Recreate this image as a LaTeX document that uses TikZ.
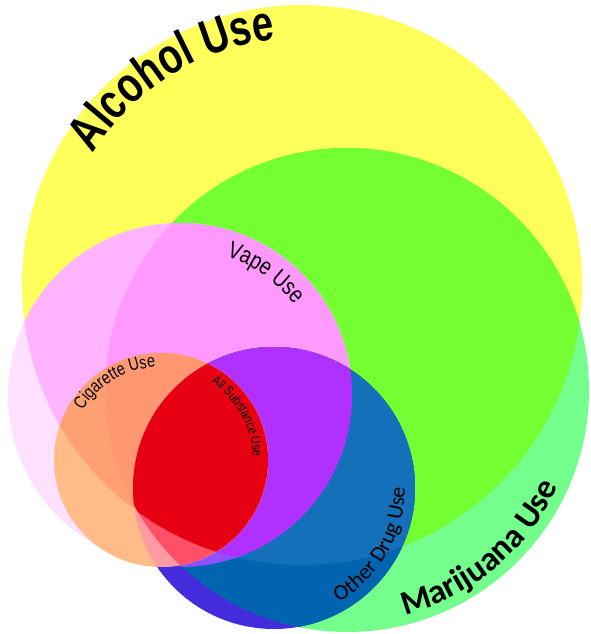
\documentclass[tikz,border=0pt]{standalone}
\usepackage{fontspec}
\newfontfamily\headfont[FakeStretch=0.77]{Liberation Sans}
\newfontfamily\narrowfont[FakeStretch=0.8]{Liberation Sans}
\newfontfamily\calfont{Carlito}
\usetikzlibrary{decorations.text}

\definecolor{alcY}{RGB}{255,255,92}
\definecolor{marG}{RGB}{116,255,140}
\definecolor{alcmarG}{RGB}{116,255,51}
\definecolor{vapeP}{RGB}{255,224,255}
\definecolor{vapealcP}{RGB}{255,180,255}
\definecolor{vapeallP}{RGB}{255,153,255}
\definecolor{othB}{RGB}{68,44,220}
\definecolor{othmarB}{RGB}{0,100,176}
\definecolor{othallB}{RGB}{20,112,184}
\definecolor{othvapeV}{RGB}{144,80,255}
\definecolor{othallV}{RGB}{176,48,255}
\definecolor{cigO}{RGB}{255,187,136}
\definecolor{cigalcO}{RGB}{255,160,115}
\definecolor{cigallO}{RGB}{255,152,112}
\definecolor{cigothR}{RGB}{255,154,162}
\definecolor{cigothmarR}{RGB}{255,80,104}
\definecolor{allR}{RGB}{230,0,18}

\tikzset{
  arclabel/.style={decorate, decoration={text along path, text align=center, text={#1}}}
}

\begin{document}
\begin{tikzpicture}[x=1pt,y=1pt]
\useasboundingbox (0,0) rectangle (590,634);
\coordinate (alc) at (302,349);
\coordinate (mar) at (347,244);
\coordinate (vape) at (180,239);
\coordinate (oth) at (274,146);
\coordinate (cig) at (161,174);

% alcohol and marijuana
\fill[alcY] (alc) circle[radius=280pt];
\fill[marG] (mar) circle[radius=242pt];
\begin{scope}
 \clip (alc) circle[radius=280pt];
 \fill[alcmarG] (mar) circle[radius=242pt];
\end{scope}

% vape
\fill[vapeP] (vape) circle[radius=172pt];
\begin{scope}
 \clip (vape) circle[radius=172pt];
 \fill[vapealcP] (alc) circle[radius=280pt];
 \clip (alc) circle[radius=280pt];
 \fill[vapeallP] (mar) circle[radius=242pt];
\end{scope}

% other drugs
\fill[othB] (oth) circle[radius=141pt];
\begin{scope}
 \clip (oth) circle[radius=141pt];
 \fill[othmarB] (mar) circle[radius=242pt];
 \clip (mar) circle[radius=242pt];
 \fill[othallB] (alc) circle[radius=280pt];
 \clip (vape) circle[radius=172pt];
 \fill[othvapeV] (vape) circle[radius=172pt];
 \clip (alc) circle[radius=280pt];
 \fill[othallV] (alc) circle[radius=280pt];
\end{scope}

% cigarettes
\fill[cigO] (cig) circle[radius=107pt];
\begin{scope}
 \clip (cig) circle[radius=107pt];
 \fill[cigalcO] (alc) circle[radius=280pt];
 \clip (alc) circle[radius=280pt];
 \fill[cigallO] (mar) circle[radius=242pt];
\end{scope}
\begin{scope}
 \clip (cig) circle[radius=107pt];
 \fill[cigothR] (oth) circle[radius=141pt];
 \clip (oth) circle[radius=141pt];
 \fill[cigothmarR] (mar) circle[radius=242pt];
 \clip (mar) circle[radius=242pt];
 \fill[allR] (alc) circle[radius=280pt];
\end{scope}

% labels
\path[arclabel={|\headfont\bfseries\fontsize{50}{50}\selectfont|Alcohol Use}]
 ([shift={(160:247pt)}]alc) arc[start angle=160, end angle=84, radius=247pt];
\path[arclabel={|\calfont\bfseries\fontsize{34}{34}\selectfont|Marijuana Use}]
 ([shift={(-85:232pt)}]mar) arc[start angle=-85, end angle=-15, radius=232pt];
\path[arclabel={|\narrowfont\fontsize{24}{24}\selectfont|Vape Use}]
 ([shift={(85:146pt)}]vape) arc[start angle=85, end angle=25, radius=146pt];
\path[arclabel={|\calfont\fontsize{22}{22}\selectfont|Other Drug Use}]
 ([shift={(-80:131pt)}]oth) arc[start angle=-80, end angle=20, radius=131pt];
\path[arclabel={|\narrowfont\fontsize{18}{18}\selectfont|Cigarette Use}]
 ([shift={(160:93pt)}]cig) arc[start angle=160, end angle=81, radius=93pt];
\path[arclabel={|\narrowfont\fontsize{13.5}{13.5}\selectfont|All Substance Use}]
 ([shift={(75:92pt)}]cig) arc[start angle=75, end angle=-16, radius=92pt];
\end{tikzpicture}
\end{document}
